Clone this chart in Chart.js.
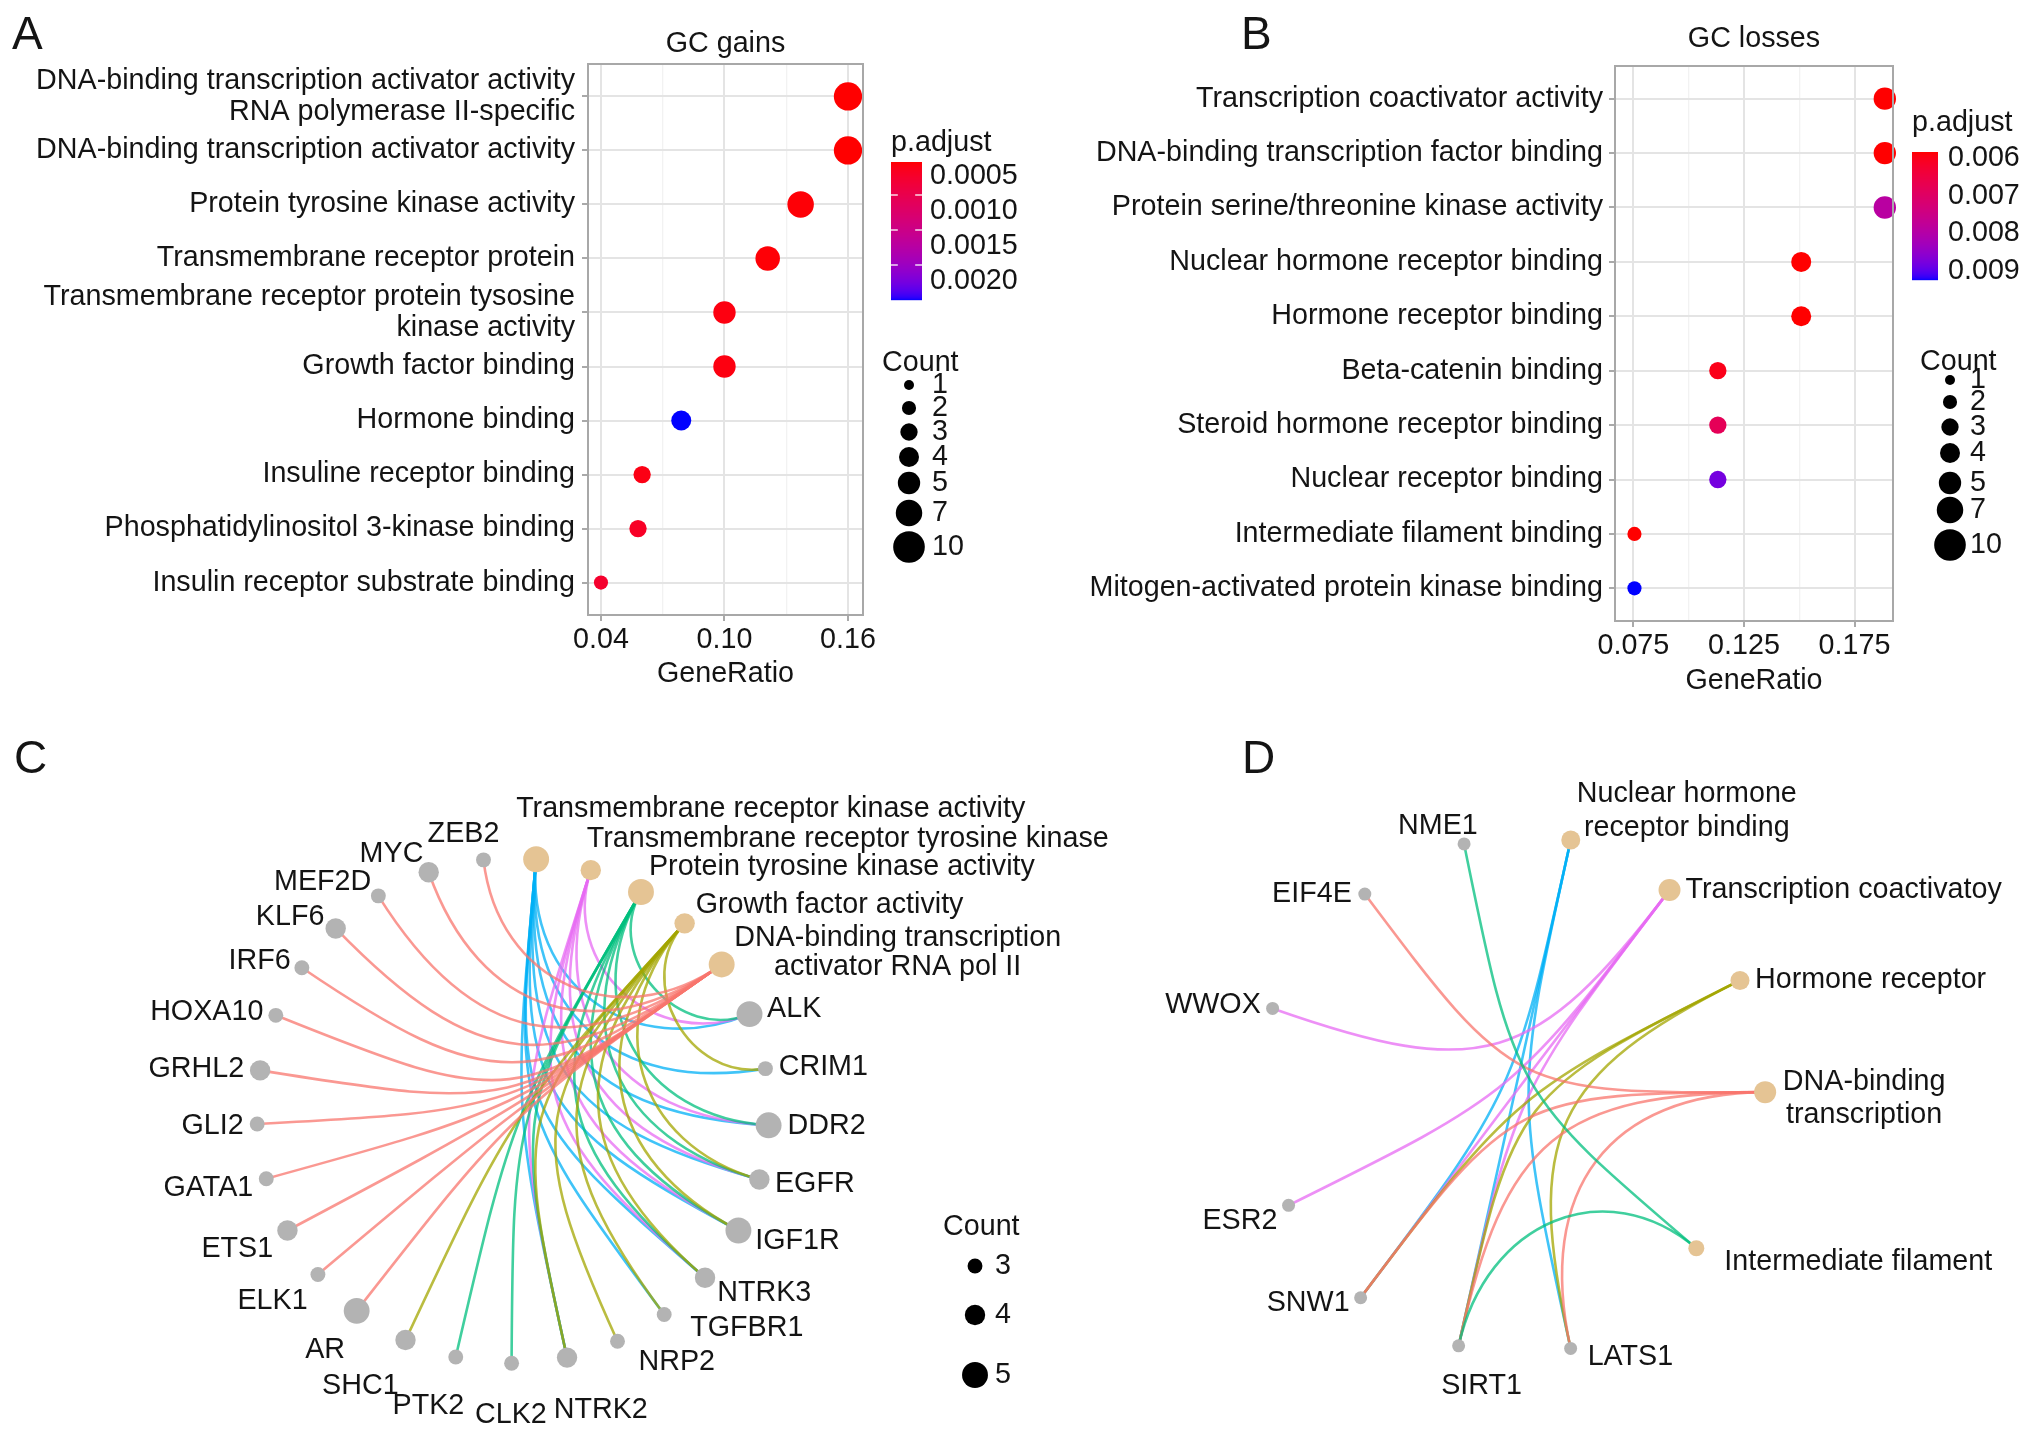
<!DOCTYPE html>
<html>
<head>
<meta charset="utf-8">
<script src="https://cdn.jsdelivr.net/npm/chart.js@4.4.1/dist/chart.umd.min.js"></script>
<style>
  html, body { margin: 0; padding: 0; background: #fff; }
  #wrap { position: relative; width: 2032px; height: 1437px; overflow: hidden; }
  canvas { position: absolute; }
</style>
</head>
<body>
<div id="wrap">
  <canvas id="chartA" width="1030" height="718" style="left:0;top:0"></canvas>
  <canvas id="chartB" width="1016" height="718" style="left:1016px;top:0"></canvas>
  <canvas id="chartC" width="1150" height="719" style="left:0;top:718px"></canvas>
  <canvas id="chartD" width="882" height="719" style="left:1150px;top:718px"></canvas>
</div>
<script>
// ---------- data ----------
// A: GO terms enriched in GC gains
const gainsTerms = [
  'DNA-binding transcription activator activity\nRNA polymerase II-specific',
  'DNA-binding transcription activator activity',
  'Protein tyrosine kinase activity',
  'Transmembrane receptor protein',
  'Transmembrane receptor protein tysosine\nkinase activity',
  'Growth factor binding',
  'Hormone binding',
  'Insuline receptor binding',
  'Phosphatidylinositol 3-kinase binding',
  'Insulin receptor substrate binding'
];
const gainsRatio = [0.160, 0.160, 0.137, 0.121, 0.100, 0.100, 0.079, 0.060, 0.058, 0.040];
const gainsCount = [8, 8, 7, 6, 5, 5, 4, 3, 3, 2];
const gainsPadj = [0.00053, 0.00053, 0.00055, 0.00055, 0.00058, 0.00058, 0.0025, 0.0006, 0.0007, 0.00075];
const gainsTicks = [0.04, 0.10, 0.16];
const gainsMinorTicks = [0.07, 0.13];
const gainsPadjTicks = [0.0005, 0.0010, 0.0015, 0.0020];

// B: GO terms enriched in GC losses
const lossesTerms = [
  'Transcription coactivator activity',
  'DNA-binding transcription factor binding',
  'Protein serine/threonine kinase activity',
  'Nuclear hormone receptor binding',
  'Hormone receptor binding',
  'Beta-catenin binding',
  'Steroid hormone receptor binding',
  'Nuclear receptor binding',
  'Intermediate filament binding',
  'Mitogen-activated protein kinase binding'
];
const lossesRatio = [0.1887, 0.1887, 0.1887, 0.1509, 0.1509, 0.1132, 0.1132, 0.1132, 0.0755, 0.0755];
const lossesCount = [5, 5, 5, 4, 4, 3, 3, 3, 2, 2];
const lossesPadj = [0.00584, 0.00584, 0.0079, 0.00584, 0.00584, 0.0060, 0.0068, 0.0088, 0.00584, 0.00924];
const lossesTicks = [0.075, 0.125, 0.175];
const lossesMinorTicks = [0.100, 0.150];
const lossesPadjTicks = [0.006, 0.007, 0.008, 0.009];

const countBreaks = [1, 2, 3, 4, 5, 7, 10];

// C: gene-concept network, GC gains (angles in degrees, clockwise from 3 o'clock)
const cTerms = [
  'Transmembrane receptor kinase activity',
  'Transmembrane receptor tyrosine kinase',
  'Protein tyrosine kinase activity',
  'Growth factor activity',
  'DNA-binding transcription\nactivator RNA pol II'
];
const cTermAngle = [-84.8, -72.3, -60.0, -47.9, -35.4];
const cTermCount = [5, 4, 5, 4, 5];
const cTermGenes = [
  ['ALK', 'CRIM1', 'DDR2', 'EGFR', 'IGF1R', 'NTRK3', 'TGFBR1', 'NTRK2'],
  ['ALK', 'DDR2', 'EGFR', 'IGF1R', 'NTRK3', 'NTRK2'],
  ['ALK', 'DDR2', 'EGFR', 'IGF1R', 'NTRK3', 'NTRK2', 'CLK2', 'PTK2'],
  ['CRIM1', 'EGFR', 'IGF1R', 'NTRK3', 'TGFBR1', 'NRP2', 'NTRK2', 'SHC1'],
  ['AR', 'ELK1', 'ETS1', 'GATA1', 'GLI2', 'GRHL2', 'HOXA10', 'IRF6', 'KLF6', 'MEF2D', 'MYC', 'ZEB2']
];
const cGenes = ['ALK', 'CRIM1', 'DDR2', 'EGFR', 'IGF1R', 'NTRK3', 'TGFBR1', 'NRP2', 'NTRK2', 'CLK2', 'PTK2', 'SHC1',
                'AR', 'ELK1', 'ETS1', 'GATA1', 'GLI2', 'GRHL2', 'HOXA10', 'IRF6', 'KLF6', 'MEF2D', 'MYC', 'ZEB2'];
const cGeneAngle = [-22.5, -9.6, 3.3, 15.8, 28.3, 41.4, 53.8, 65.9, 77.8, 90.3, 102.9, 114.8,
                    127.6, 139.6, 151.7, 164.4, 177.0, 189.2, 202.2, 214.5, 226.2, 238.3, 250.8, 263.4];
const cGeneCount = [5, 3, 5, 4, 5, 4, 3, 3, 4, 3, 3, 4, 5, 3, 4, 3, 3, 4, 3, 3, 4, 3, 4, 3];
const cCountBreaks = [3, 4, 5];

// D: gene-concept network, GC losses
const dTerms = [
  'Nuclear hormone\nreceptor binding',
  'Transcription coactivatoy',
  'Hormone receptor',
  'DNA-binding\ntranscription',
  'Intermediate filament'
];
const dTermAngle = [-77.1, -51.8, -25.9, -0.3, 39.5];
const dTermRadius = [1.005, 1.0, 1.0, 1.0, 0.94];
const dTermCount = [3, 4, 3, 4, 2];
const dTermGenes = [
  ['SNW1', 'SIRT1', 'LATS1'],
  ['WWOX', 'ESR2', 'SNW1', 'SIRT1'],
  ['SNW1', 'SIRT1', 'LATS1'],
  ['EIF4E', 'SNW1', 'SIRT1', 'LATS1'],
  ['NME1', 'SIRT1']
];
const dGenes = ['LATS1', 'SIRT1', 'SNW1', 'ESR2', 'WWOX', 'EIF4E', 'NME1'];
const dGeneAngle = [77.2, 102.9, 127.9, 154.4, 198.8, 232.2, 258.2];
const dGeneRadius = [1.01, 1.0, 1.0, 1.0, 1.02, 0.975, 0.985];
const dGeneCount = [1, 1, 1, 1, 1, 1, 1];

// ---------- helpers ----------
const FONT = "'Liberation Sans', Arial, Helvetica, sans-serif";
const FS = 28.7;
const INK = '#141414';
const HUE5 = ['#F8766D', '#A3A500', '#00BF7D', '#00B0F6', '#E76BF3'];
Chart.defaults.font.family = FONT;
Chart.defaults.font.size = FS;
Chart.defaults.color = INK;

// red -> blue gradient interpolated in CIELAB (like ggplot's scale_colour_gradient)
function toLin(c) { c /= 255; return c <= 0.04045 ? c / 12.92 : Math.pow((c + 0.055) / 1.055, 2.4); }
function toSrgb(c) { c = c <= 0.0031308 ? 12.92 * c : 1.055 * Math.pow(c, 1 / 2.4) - 0.055; return Math.round(Math.max(0, Math.min(1, c)) * 255); }
function rgb2lab(rgb) {
  const [R, G, B] = rgb.map(toLin);
  const f = t => t > 0.008856 ? Math.cbrt(t) : 7.787 * t + 16 / 116;
  const X = f((0.4124 * R + 0.3576 * G + 0.1805 * B) / 0.95047);
  const Y = f(0.2126 * R + 0.7152 * G + 0.0722 * B);
  const Z = f((0.0193 * R + 0.1192 * G + 0.9505 * B) / 1.08883);
  return [116 * Y - 16, 500 * (X - Y), 200 * (Y - Z)];
}
function lab2rgb([L, a, b]) {
  const fy = (L + 16) / 116, fx = fy + a / 500, fz = fy - b / 200;
  const inv = t => t * t * t > 0.008856 ? t * t * t : (t - 16 / 116) / 7.787;
  const X = 0.95047 * inv(fx), Y = inv(fy), Z = 1.08883 * inv(fz);
  return [3.2406 * X - 1.5372 * Y - 0.4986 * Z, -0.9689 * X + 1.8758 * Y + 0.0415 * Z, 0.0557 * X - 0.2040 * Y + 1.0570 * Z].map(toSrgb);
}
const LAB_LOW = rgb2lab([255, 0, 0]), LAB_HIGH = rgb2lab([0, 0, 255]);
function padjColor(v, lo, hi) {
  const t = Math.max(0, Math.min(1, (v - lo) / (hi - lo)));
  const c = lab2rgb(LAB_LOW.map((l, i) => l + (LAB_HIGH[i] - l) * t));
  return `rgb(${c[0]},${c[1]},${c[2]})`;
}
function withAlpha(hex, a) {
  const n = parseInt(hex.slice(1), 16);
  return `rgba(${n >> 16},${(n >> 8) & 255},${n & 255},${a})`;
}
const dotRadius = c => 5 * Math.sqrt(c);

function drawLines(ctx, text, x, y, align, gap) {
  const lines = text.split('\n');
  ctx.textAlign = align;
  ctx.textBaseline = 'middle';
  const y0 = y - (lines.length - 1) * gap / 2;
  lines.forEach((ln, i) => ctx.fillText(ln, x, y0 + i * gap));
}

// ---------- dot plots (A, B) ----------
function dotPlot(id, terms, ratio, count, padj, major, minor, padjTicks, L) {
  const canvas = document.getElementById(id);
  const W = canvas.width, H = canvas.height;
  const lo = Math.min(...padj), hi = Math.max(...padj);
  const allTicks = major.concat(minor).sort((a, b) => a - b);
  const isMajor = v => major.some(m => Math.abs(m - v) < 1e-9);
  const decor = {
    id: 'decor' + id,
    afterDatasetsDraw(chart) {
      const ctx = chart.ctx, a = chart.chartArea, g = L.legend;
      ctx.save();
      ctx.strokeStyle = '#a8a8a8';
      ctx.lineWidth = 2;
      ctx.strokeRect(a.left, a.top, a.right - a.left, a.bottom - a.top);
      ctx.fillStyle = INK;
      ctx.font = `${FS}px ${FONT}`;
      drawLines(ctx, L.title, (a.left + a.right) / 2, L.titleY, 'center', 30);
      ctx.font = `46px ${FONT}`;
      ctx.textAlign = 'left';
      ctx.textBaseline = 'alphabetic';
      ctx.fillText(L.letter, L.letterX, L.letterY);

      // colour bar
      ctx.font = `${FS}px ${FONT}`;
      drawLines(ctx, 'p.adjust', g.barX, g.titleY, 'left', 30);
      const span = g.barBottom - g.barTop;
      for (let yy = 0; yy < span; yy++) {
        ctx.fillStyle = padjColor(lo + (hi - lo) * (yy + 0.5) / span, lo, hi);
        ctx.fillRect(g.barX, g.barTop + yy, g.barW, 1.2);
      }
      padjTicks.forEach(v => {
        const yy = g.barTop + (v - lo) / (hi - lo) * span;
        if (g.dash && yy > g.barTop + 2 && yy < g.barBottom - 2) {
          ctx.strokeStyle = 'rgba(255,255,255,0.85)';
          ctx.lineWidth = 1.5;
          ctx.beginPath();
          ctx.moveTo(g.barX, yy); ctx.lineTo(g.barX + g.barW * 0.22, yy);
          ctx.moveTo(g.barX + g.barW * 0.78, yy); ctx.lineTo(g.barX + g.barW, yy);
          ctx.stroke();
        }
        ctx.fillStyle = INK;
        drawLines(ctx, v.toFixed(g.digits), g.labelX, yy + g.labelShift, 'left', 30);
      });

      // size legend
      drawLines(ctx, 'Count', g.countX, g.countTitleY, 'left', 30);
      countBreaks.forEach((c, i) => {
        ctx.fillStyle = '#000';
        ctx.beginPath();
        ctx.arc(g.dotX, g.countY[i], dotRadius(c), 0, Math.PI * 2);
        ctx.fill();
        ctx.fillStyle = INK;
        drawLines(ctx, String(c), g.countLabelX, g.countY[i], 'left', 30);
      });
      ctx.restore();
    }
  };

  return new Chart(canvas, {
    type: 'scatter',
    data: {
      datasets: [{
        data: ratio.map((v, i) => ({ x: v, y: i + 1 })),
        pointRadius: count.map(dotRadius),
        pointHoverRadius: count.map(dotRadius),
        pointBackgroundColor: padj.map(p => padjColor(p, lo, hi)),
        pointBorderWidth: 0,
        clip: false
      }]
    },
    options: {
      responsive: false,
      animation: false,
      events: [],
      layout: { padding: { top: L.box.top, right: W - L.box.right, left: 0, bottom: 0 } },
      plugins: { legend: { display: false }, tooltip: { enabled: false } },
      scales: {
        x: {
          type: 'linear', min: L.xMin, max: L.xMax,
          afterBuildTicks: s => { s.ticks = allTicks.map(v => ({ value: v })); },
          afterFit: s => { s.height = H - L.box.bottom; s.paddingLeft = 0; s.paddingRight = 0; },
          ticks: { autoSkip: false, maxRotation: 0, padding: 2, color: INK,
                   callback: v => isMajor(v) ? v.toFixed(L.digits) : '' },
          grid: {
            color: c => (c.tick && isMajor(c.tick.value)) ? '#e4e4e4' : '#f2f2f2',
            lineWidth: c => (c.tick && isMajor(c.tick.value)) ? 2 : 1.3,
            tickColor: c => (c.tick && isMajor(c.tick.value)) ? '#8c8c8c' : 'rgba(0,0,0,0)',
            tickLength: 6, tickWidth: 1.5
          },
          border: { display: false },
          title: { display: true, text: 'GeneRatio', color: INK, padding: { top: 0, bottom: L.xTitlePad } }
        },
        y: {
          type: 'linear', reverse: true, min: 0.4, max: terms.length + 0.6,
          afterBuildTicks: s => { s.ticks = terms.map((t, i) => ({ value: i + 1 })); },
          afterFit: s => { s.width = L.box.left; s.paddingTop = 0; s.paddingBottom = 0; },
          ticks: { autoSkip: false, padding: L.yPad, color: INK, font: { size: FS, lineHeight: 1.08 },
                   callback: v => terms[Math.round(v) - 1].split('\n') },
          grid: { color: '#e4e4e4', lineWidth: 2, tickColor: '#8c8c8c', tickLength: 6, tickWidth: 1.5 },
          border: { display: false }
        }
      }
    },
    plugins: [decor]
  });
}

dotPlot('chartA', gainsTerms, gainsRatio, gainsCount, gainsPadj, gainsTicks, gainsMinorTicks, gainsPadjTicks, {
  box: { left: 588, right: 863, top: 64, bottom: 615 },
  xMin: 0.0337, xMax: 0.1673, digits: 2, yPad: 7, xTitlePad: 27,
  title: 'GC gains', titleY: 44, letter: 'A', letterX: 12, letterY: 49,
  legend: { titleY: 143, barX: 891, barW: 31, barTop: 162, barBottom: 300, labelX: 930, labelShift: 16,
            dash: true, digits: 4, countX: 882, countTitleY: 363, dotX: 909, countLabelX: 932,
            countY: [385, 408, 432, 457, 483, 513, 547] }
});

dotPlot('chartB', lossesTerms, lossesRatio, lossesCount, lossesPadj, lossesTicks, lossesMinorTicks, lossesPadjTicks, {
  box: { left: 599, right: 877, top: 66, bottom: 621 },
  xMin: 0.0667, xMax: 0.1924, digits: 3, yPad: 6, xTitlePad: 20,
  title: 'GC losses', titleY: 39, letter: 'B', letterX: 225, letterY: 49,
  legend: { titleY: 123, barX: 896, barW: 26, barTop: 152, barBottom: 280, labelX: 932, labelShift: 0,
            dash: false, digits: 3, countX: 904, countTitleY: 362, dotX: 934, countLabelX: 954,
            countY: [380, 402, 427, 453, 483, 510, 545] }
});

// ---------- gene-concept networks (C, D) ----------
function network(id, net, L) {
  const canvas = document.getElementById(id);
  const W = canvas.width, H = canvas.height;
  const polar = (deg, rad) => ({ x: rad * Math.cos(deg * Math.PI / 180), y: -rad * Math.sin(deg * Math.PI / 180) });
  const termPts = net.terms.map((t, i) => polar(net.termAngle[i], net.termRadius ? net.termRadius[i] : 1));
  const genePts = net.genes.map((g, i) => polar(net.geneAngle[i], net.geneRadius ? net.geneRadius[i] : 1));
  const sorted = net.terms.slice().sort();
  const hue = t => HUE5[sorted.indexOf(t)];
  const nodes = net.terms.map((t, i) => ({ name: t, pt: termPts[i], count: net.termCount[i] }))
    .concat(net.genes.map((g, i) => ({ name: g, pt: genePts[i], count: net.geneCount[i] })));

  // edges bend towards the centre of the ring, more strongly for far-apart nodes
  const edges = {
    id: 'edges' + id,
    beforeDatasetsDraw(chart) {
      const { ctx, scales: { x, y } } = chart;
      const cx = x.getPixelForValue(0), cy = y.getPixelForValue(0);
      ctx.save();
      ctx.lineWidth = 2.6;
      ctx.lineCap = 'round';
      net.terms.forEach((t, ti) => {
        ctx.strokeStyle = withAlpha(hue(t), 0.75);
        const x0 = x.getPixelForValue(termPts[ti].x), y0 = y.getPixelForValue(termPts[ti].y);
        net.termGenes[ti].forEach(g => {
          const p = genePts[net.genes.indexOf(g)];
          const x1 = x.getPixelForValue(p.x), y1 = y.getPixelForValue(p.y);
          let dA = Math.abs(Math.atan2(y0 - cy, x0 - cx) - Math.atan2(y1 - cy, x1 - cx));
          if (dA > Math.PI) dA = 2 * Math.PI - dA;
          const k = Math.min(1, dA / (125 * Math.PI / 180));
          ctx.beginPath();
          ctx.moveTo(x0, y0);
          ctx.bezierCurveTo(x0 + k * (cx - x0), y0 + k * (cy - y0), x1 + k * (cx - x1), y1 + k * (cy - y1), x1, y1);
          ctx.stroke();
        });
      });
      ctx.restore();
    }
  };

  const labels = {
    id: 'labels' + id,
    afterDatasetsDraw(chart) {
      const { ctx, scales: { x, y } } = chart;
      const cx = x.getPixelForValue(0), cy = y.getPixelForValue(0);
      ctx.save();
      ctx.fillStyle = INK;
      ctx.font = `${FS}px ${FONT}`;
      nodes.forEach(nd => {
        const px = x.getPixelForValue(nd.pt.x), py = y.getPixelForValue(nd.pt.y);
        const nudge = L.nudge[nd.name];
        if (nudge) {
          drawLines(ctx, nd.name, px + nudge.dx, py + nudge.dy, nudge.align, nudge.gap || 30);
          return;
        }
        const a = Math.atan2(py - cy, px - cx), c = Math.cos(a), s = Math.sin(a);
        const gap = L.size(nd.count) + 6;
        const ax = px + c * gap;
        let ay = py + s * (gap + 18 * s * s) * (s < 0 ? 0.6 : 1);
        if (s > 0 && c < 0.3) ay += 20 * s;
        const hj = Math.min(1, Math.max(0, 0.5 - 1.5 * c));
        drawLines(ctx, nd.name, ax - hj * ctx.measureText(nd.name).width, ay, 'left', 30);
      });
      ctx.font = `46px ${FONT}`;
      ctx.textAlign = 'left';
      ctx.textBaseline = 'alphabetic';
      ctx.fillText(L.letter, L.letterX, L.letterY);
      if (L.legend) {
        const g = L.legend;
        ctx.font = `${FS}px ${FONT}`;
        drawLines(ctx, 'Count', g.titleX, g.titleY, 'left', 30);
        net.breaks.forEach((c, i) => {
          ctx.fillStyle = '#000';
          ctx.beginPath();
          ctx.arc(g.dotX, g.ys[i], L.size(c), 0, Math.PI * 2);
          ctx.fill();
          ctx.fillStyle = INK;
          drawLines(ctx, String(c), g.labelX, g.ys[i], 'left', 30);
        });
      }
      ctx.restore();
    }
  };

  return new Chart(canvas, {
    type: 'scatter',
    data: {
      datasets: [
        { data: termPts, pointRadius: net.termCount.map(L.size), pointHoverRadius: net.termCount.map(L.size),
          pointBackgroundColor: '#E5C494', pointBorderWidth: 0, clip: false },
        { data: genePts, pointRadius: net.geneCount.map(L.size), pointHoverRadius: net.geneCount.map(L.size),
          pointBackgroundColor: '#B3B3B3', pointBorderWidth: 0, clip: false }
      ]
    },
    options: {
      responsive: false,
      animation: false,
      events: [],
      layout: { padding: 0 },
      plugins: { legend: { display: false }, tooltip: { enabled: false } },
      scales: {
        x: { type: 'linear', display: false, min: -L.cx / L.ux, max: (W - L.cx) / L.ux },
        y: { type: 'linear', display: false, min: -(H - L.cy) / L.uy, max: L.cy / L.uy }
      }
    },
    plugins: [edges, labels]
  });
}

network('chartC', {
  terms: cTerms, termAngle: cTermAngle, termCount: cTermCount, termGenes: cTermGenes,
  genes: cGenes, geneAngle: cGeneAngle, geneCount: cGeneCount, breaks: cCountBreaks
}, {
  cx: 511.5, cy: 394, ux: 262, uy: 262,
  size: c => 2.75 * c - 0.8,
  letter: 'C', letterX: 14, letterY: 55,
  legend: { titleX: 943, titleY: 509, dotX: 975, ys: [548, 597, 657], labelX: 995 },
  nudge: {
    'Transmembrane receptor kinase activity': { dx: -20, dy: -50, align: 'left' },
    'Transmembrane receptor tyrosine kinase': { dx: -4, dy: -31, align: 'left' },
    'Protein tyrosine kinase activity': { dx: 8, dy: -25, align: 'left' },
    'Growth factor activity': { dx: 11, dy: -18, align: 'left' },
    'DNA-binding transcription\nactivator RNA pol II': { dx: 176, dy: -12, align: 'center', gap: 29 },
    'ZEB2': { dx: -20, dy: -26, align: 'center' },
    'TGFBR1': { dx: 26, dy: 14, align: 'left' },
    'NRP2': { dx: 21, dy: 21, align: 'left' }
  }
});

network('chartD', {
  terms: dTerms, termAngle: dTermAngle, termRadius: dTermRadius, termCount: dTermCount, termGenes: dTermGenes,
  genes: dGenes, geneAngle: dGeneAngle, geneRadius: dGeneRadius, geneCount: dGeneCount
}, {
  cx: 362.6, cy: 376, ux: 257, uy: 267,
  size: c => 5 + 1.5 * c,
  letter: 'D', letterX: 92, letterY: 55,
  nudge: {
    'Nuclear hormone\nreceptor binding': { dx: 116, dy: -29, align: 'center', gap: 34 },
    'Transcription coactivatoy': { dx: 16, dy: 0, align: 'left' },
    'Hormone receptor': { dx: 15, dy: 0, align: 'left' },
    'DNA-binding\ntranscription': { dx: 99, dy: 6, align: 'center', gap: 33 },
    'Intermediate filament': { dx: 28, dy: 14, align: 'left' },
    'SIRT1': { dx: 23, dy: 40, align: 'center' },
    'LATS1': { dx: 17, dy: 9, align: 'left' },
    'SNW1': { dx: -11, dy: 5, align: 'right' },
    'EIF4E': { dx: -13, dy: 0, align: 'right' }
  }
});
</script>
</body>
</html>
